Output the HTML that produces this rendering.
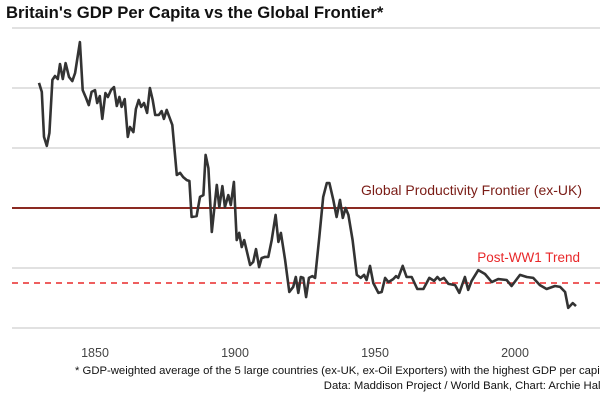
<!DOCTYPE html>
<html><head><meta charset="utf-8"><style>
body{margin:0;background:#fff;font-family:"Liberation Sans",sans-serif}
svg{display:block}
</style></head><body>
<svg width="600" height="400" xmlns="http://www.w3.org/2000/svg">
<text x="6" y="18" font-size="16.7" font-weight="bold" fill="#111">Britain's GDP Per Capita vs the Global Frontier*</text>
<g id="grid"></g>
<g id="refs"></g>
<g id="series"></g>
<g id="xaxis"></g>
<text x="75" y="374" font-size="11.3" fill="#111">* GDP-weighted average of the 5 large countries (ex-UK, ex-Oil Exporters) with the highest GDP per capita</text>
<text x="603" y="389" font-size="11.3" text-anchor="end" fill="#111">Data: Maddison Project / World Bank, Chart: Archie Hall</text>
</svg>
<script>
const years=[1830.0,1831.0,1831.8,1832.8,1833.7,1834.8,1835.7,1836.7,1837.5,1838.5,1839.5,1840.7,1841.9,1842.9,1844.6,1845.6,1846.8,1847.8,1848.8,1850.0,1850.8,1851.7,1852.6,1853.7,1854.6,1855.7,1856.8,1857.8,1858.7,1859.5,1860.6,1861.7,1862.5,1863.7,1864.6,1865.6,1866.5,1867.5,1868.6,1869.6,1870.6,1871.5,1872.8,1873.8,1874.6,1875.6,1877.6,1879.2,1880.4,1881.5,1882.8,1883.7,1884.5,1886.3,1887.5,1888.7,1889.5,1890.5,1891.7,1893.5,1894.4,1895.5,1896.4,1897.6,1898.5,1899.6,1900.6,1901.5,1902.4,1903.3,1905.4,1906.5,1907.5,1908.6,1909.5,1910.7,1911.9,1913.1,1914.5,1915.5,1916.4,1917.9,1919.4,1920.8,1921.7,1922.6,1923.5,1924.4,1925.4,1926.4,1927.6,1928.6,1930.1,1931.5,1932.8,1933.7,1935.1,1936.3,1937.5,1938.5,1939.5,1940.5,1942.0,1943.5,1944.9,1946.1,1947.0,1948.2,1949.4,1951.2,1952.4,1953.6,1954.8,1956.5,1957.5,1958.3,1959.9,1961.3,1963.1,1965.1,1967.3,1969.4,1971.1,1972.3,1973.2,1974.6,1976.2,1978.6,1980.1,1982.1,1983.3,1984.5,1986.9,1989.3,1991.7,1994.0,1997.0,1998.8,2001.8,2004.2,2006.5,2008.9,2011.3,2014.3,2016.1,2017.9,2019.0,2020.6,2021.8];
const values=[141.7,138.7,123.7,120.7,125.0,142.7,144.0,143.0,148.0,143.0,148.3,143.7,142.3,145.0,155.3,139.3,136.7,134.3,138.7,139.3,135.0,137.3,129.7,138.3,137.0,139.3,140.3,134.0,137.0,133.7,136.3,123.7,127.0,125.3,133.0,136.0,133.7,135.0,131.7,140.0,136.0,131.0,131.0,132.3,129.7,132.7,127.7,111.0,111.7,110.3,109.3,109.0,97.0,97.3,103.7,104.3,117.7,113.3,92.0,107.7,100.3,107.3,100.3,104.3,101.0,108.7,89.3,91.7,87.0,89.3,81.0,82.0,86.3,80.3,83.3,83.7,83.7,89.3,97.7,88.7,91.7,82.7,72.0,73.7,77.0,71.7,77.0,76.7,70.3,76.7,77.3,76.7,90.3,103.7,108.3,108.3,102.7,97.0,102.7,96.7,100.0,97.7,89.3,77.7,76.7,77.7,76.0,80.7,75.0,71.7,72.0,76.7,75.3,76.3,77.3,76.7,80.7,77.0,77.0,73.0,73.0,76.7,75.7,77.0,76.0,76.7,74.7,74.3,71.7,77.0,72.7,75.7,79.3,78.0,75.3,76.3,76.0,74.0,77.7,77.0,76.7,74.3,73.0,74.0,73.7,72.0,66.7,68.3,67.3];
const gridValues=[60,80,120,140,160];
const frontierValue=[100];
const trendValue=[75];
const xTicks=[1850,1900,1950,2000];
const NS='http://www.w3.org/2000/svg';
const X=y=>95+(y-1850)*2.8;
const Y=v=>208-(v-100)*3;
function mk(tag,attrs,parent){const e=document.createElementNS(NS,tag);for(const k in attrs)e.setAttribute(k,attrs[k]);document.getElementById(parent).appendChild(e);return e;}
gridValues.forEach(v=>{
 const l=mk('line',{x1:12,x2:600,y1:Y(v),y2:Y(v),stroke:'#cfcfcf','stroke-width':1.3},'grid');
 
 
});
frontierValue.forEach(v=>{
 const l=mk('line',{x1:12,x2:600,y1:Y(v),y2:Y(v),stroke:'#8b2a22','stroke-width':2},'refs');
 
 
 const t=mk('text',{x:582,y:Y(v)-13,'font-size':14,'text-anchor':'end',fill:'#7a1c16'},'refs');
 t.textContent='Global Productivity Frontier (ex-UK)';
 
 
});
trendValue.forEach(v=>{
 const l=mk('line',{x1:12,x2:600,y1:Y(v),y2:Y(v),stroke:'#e8282a','stroke-width':1.6,'stroke-dasharray':'6,5'},'refs');
 
 
 const t=mk('text',{x:580,y:Y(v)-21,'font-size':13.5,'text-anchor':'end',fill:'#e8282a'},'refs');
 t.textContent='Post-WW1 Trend';
 
 
});
const d=years.map((y,i)=>(i?'L':'M')+X(y).toFixed(1)+','+Y(values[i]).toFixed(1)).join(' ');
const p=mk('path',{d:d,fill:'none',stroke:'#333','stroke-width':2.6,'stroke-linejoin':'round'},'series');


xTicks.forEach(t=>{
 const e=mk('text',{x:X(t),y:357,'font-size':12.5,'text-anchor':'middle',fill:'#444'},'xaxis');
 e.textContent=t;
 
 
});
</script>
</body></html>
